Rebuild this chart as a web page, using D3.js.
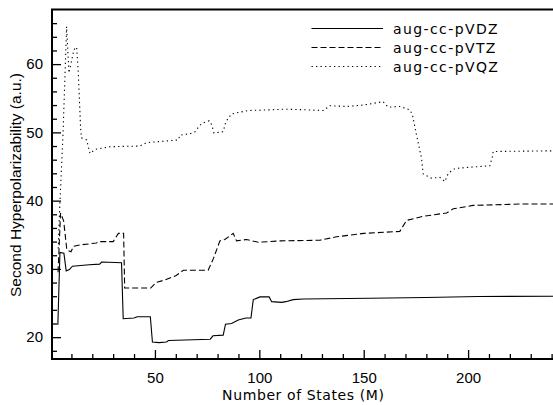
<!DOCTYPE html>
<html>
<head>
<meta charset="utf-8">
<script src="https://cdn.jsdelivr.net/npm/d3@7/dist/d3.min.js"></script>
<style>
  html, body { margin: 0; padding: 0; background: #fff; }
  svg { display: block; }
</style>
</head>
<body>
<svg id="chart" width="553" height="405"></svg>
<script>
// Second hyperpolarizability vs. number of states, three basis sets
const basisSets = ["aug-cc-pVDZ", "aug-cc-pVTZ", "aug-cc-pVQZ"];

const statesVDZ = [3.5, 4.5, 6.4, 7.5, 9, 10.5, 18.5, 23.5, 24.5, 34, 34.8, 40, 41.5, 47.8, 48.8, 52, 55.5, 56.5,
  76.5, 77.8, 82.7, 83.8, 86.7, 89.9, 93.6, 96, 97.1, 100.3, 104.7, 105.9, 110.7, 112.7, 116.2, 121, 153, 180, 205, 241];
const valuesVDZ = [21.8, 32.4, 32.3, 29.7, 29.9, 30.4, 30.6, 30.7, 31.0, 30.9, 22.7, 22.8, 23.0, 23.0, 19.3, 19.2, 19.3, 19.5,
  19.7, 20.2, 20.3, 21.9, 22.0, 22.5, 22.8, 22.8, 25.5, 25.9, 25.9, 25.2, 25.1, 25.2, 25.5, 25.6, 25.7, 25.8, 25.95, 26.0];

const statesVTZ = [3.6, 4.8, 6.3, 7.8, 9.8, 11, 14, 22, 23.5, 30, 32.5, 35, 35.5, 48, 50.5, 55, 60, 63.6, 75.5, 78, 81.1,
  83.5, 87.5, 89.1, 93.9, 99.5, 110, 129, 137, 150, 167.3, 170.5, 178.5, 189.7, 192.9, 202.4, 224.8, 241];
const valuesVTZ = [29.5, 38.2, 37.0, 32.8, 32.5, 33.3, 33.5, 33.8, 34.0, 34.0, 35.2, 35.2, 27.2, 27.2, 28.0, 28.4, 29.0, 29.8, 29.8, 31.5, 34.1,
  34.3, 35.2, 34.1, 34.3, 33.9, 34.1, 34.2, 34.7, 35.2, 35.5, 37.1, 37.7, 38.2, 38.8, 39.3, 39.5, 39.5];

const statesVQZ = [3.7, 4.4, 6.0, 6.9, 7.7, 8.8, 11.2, 12.5, 13.3, 14.4, 14.8, 17.3, 18.9, 21.3, 28.5, 42.8, 46, 58, 61.2, 62,
  66.8, 69.2, 70.7, 72.4, 76, 77.2, 78.3, 82.7, 84, 86.7, 91.5, 94.7, 105, 112.3, 122.6, 130.6, 133.8, 141.8, 149.8,
  159.3, 161.7, 167.3, 172.1, 173.4, 175.3, 177.7, 178.5, 182.5, 186.5, 188.9, 190.5, 193.7, 200.9, 210.4, 211.7, 212, 241];
const valuesVQZ = [33.0, 39.0, 50.0, 58.2, 65.5, 58.7, 62.1, 62.5, 58.7, 50.6, 49.2, 48.9, 46.9, 47.5, 47.9, 48.0, 48.5, 48.8, 48.9, 49.6,
  49.8, 50.1, 50.7, 51.3, 51.7, 51.1, 49.9, 50.1, 51.6, 52.7, 53.0, 53.2, 53.3, 53.4, 53.3, 53.2, 53.9, 53.8, 54.0,
  54.5, 53.7, 53.8, 53.3, 52.5, 49.6, 46.2, 43.9, 43.3, 43.4, 42.8, 44.0, 44.7, 44.9, 45.1, 46.5, 47.2, 47.3];

const xMajorTicks = [50, 100, 150, 200];
const yMajorTicks = [20, 30, 40, 50, 60];

const xLabel = "Number of States (M)";
const yLabel = "Second Hyperpolarizability (a.u.)";

const series = [
  { name: basisSets[0], states: statesVDZ, values: valuesVDZ, dash: null },
  { name: basisSets[1], states: statesVTZ, values: valuesVTZ, dash: "6,3" },
  { name: basisSets[2], states: statesVQZ, values: valuesVQZ, dash: "1.3,3.2" }
];

const svg = d3.select("#chart");
const plotLeft = 52, plotTop = 9.5, plotBottom = 359, plotRight = 553.7;

const x = d3.scaleLinear().domain([0.7, 241]).range([plotLeft, plotRight]);
const y = d3.scaleLinear().domain([16.8, 68]).range([plotBottom, plotTop]);

svg.append("defs").append("clipPath").attr("id", "plotclip")
  .append("rect").attr("x", plotLeft).attr("y", plotTop)
  .attr("width", 560 - plotLeft).attr("height", plotBottom - plotTop);

// inward-pointing ticks along the bottom axis
const xMinor = d3.range(10, 241, 10).filter(v => !xMajorTicks.includes(v));
const xAxis = d3.axisBottom(x).tickValues(xMajorTicks).tickSize(-9).tickPadding(13).tickFormat(d3.format("d"));
const xAxisMinor = d3.axisBottom(x).tickValues(xMinor).tickSize(-5).tickFormat("");

const gx = svg.append("g").attr("transform", `translate(0,${plotBottom})`).call(xAxis);
const gxm = svg.append("g").attr("transform", `translate(0,${plotBottom})`).call(xAxisMinor);

// inward-pointing ticks along the left axis
const yMinor = d3.range(18, 67, 2).filter(v => !yMajorTicks.includes(v));
const yAxis = d3.axisLeft(y).tickValues(yMajorTicks).tickSize(-9).tickPadding(9).tickFormat(d3.format("d"));
const yAxisMinor = d3.axisLeft(y).tickValues(yMinor).tickSize(-5).tickFormat("");

const gy = svg.append("g").attr("transform", `translate(${plotLeft},0)`).call(yAxis);
const gym = svg.append("g").attr("transform", `translate(${plotLeft},0)`).call(yAxisMinor);

[gx, gxm, gy, gym].forEach(g => {
  g.select(".domain").remove();
  g.selectAll(".tick line").attr("stroke", "#000").attr("stroke-width", 1.3);
  g.selectAll(".tick text")
    .attr("fill", "#000")
    .style("font-family", "'Liberation Sans', Arial, sans-serif")
    .style("font-size", "15px");
});

// plot frame
svg.append("rect")
  .attr("x", plotLeft).attr("y", plotTop)
  .attr("width", 600).attr("height", plotBottom - plotTop)
  .attr("fill", "none").attr("stroke", "#000").attr("stroke-width", 2);

// series lines
const line = d3.line()
  .x(d => x(d[0]))
  .y(d => y(d[1]));

const plot = svg.append("g").attr("clip-path", "url(#plotclip)");
series.forEach(s => {
  const pts = s.states.map((m, i) => [m, s.values[i]]);
  plot.append("path")
    .datum(pts)
    .attr("d", line)
    .attr("fill", "none")
    .attr("stroke", "#000")
    .attr("stroke-width", 1.1)
    .attr("stroke-dasharray", s.dash);
});

// legend
const legend = svg.append("g");
series.forEach((s, i) => {
  const ly = 28.5 + i * 19;
  legend.append("line")
    .attr("x1", 311.5).attr("x2", 383)
    .attr("y1", ly).attr("y2", ly)
    .attr("stroke", "#000").attr("stroke-width", 1.1)
    .attr("stroke-dasharray", s.dash);
  legend.append("text")
    .attr("x", 393).attr("y", ly + 5)
    .style("font-family", "'DejaVu Sans', Verdana, sans-serif")
    .style("font-size", "14px")
    .style("letter-spacing", "1.4px")
    .text(s.name);
});

// axis titles
svg.append("text")
  .attr("x", (221.7 + 385) / 2).attr("y", 400)
  .attr("text-anchor", "middle")
  .style("font-family", "'DejaVu Sans', Verdana, sans-serif")
  .style("font-size", "14px")
  .style("letter-spacing", "0.6px")
  .text(xLabel);

svg.append("text")
  .attr("transform", "translate(21,185) rotate(-90)")
  .attr("text-anchor", "middle")
  .style("font-family", "'Liberation Sans', Arial, sans-serif")
  .style("font-size", "15.5px")
  .text(yLabel);
</script>
</body>
</html>
